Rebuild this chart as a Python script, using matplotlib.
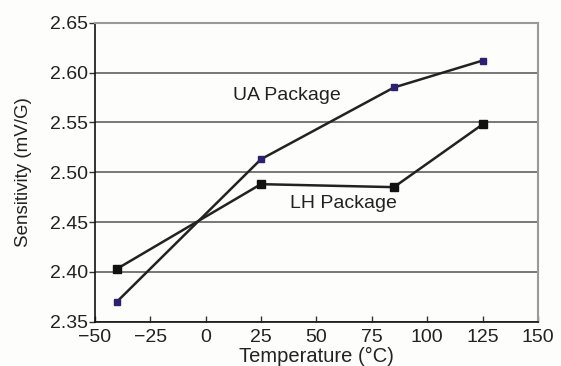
import matplotlib
matplotlib.use("Agg")
import matplotlib.pyplot as plt

plt.rcParams['font.family'] = ['Liberation Sans', 'DejaVu Sans']

temps = [-40, 25, 85, 125]
ua_vals = [2.370, 2.513, 2.585, 2.612]
lh_vals = [2.403, 2.488, 2.485, 2.548]
xticks = [-50, -25, 0, 25, 50, 75, 100, 125, 150]
yticks = [2.35, 2.40, 2.45, 2.50, 2.55, 2.60, 2.65]

fig = plt.figure(figsize=(5.61, 3.66), dpi=100)
fig.patch.set_facecolor('#fdfdfb')
ax = fig.add_axes([94.7/561, 1 - 321.7/366, (538 - 94.7)/561, (321.7 - 22.7)/366])
ax.set_facecolor('#fdfdfb')

ax.plot(temps, ua_vals, color='#222222', lw=1.8, marker='s', ms=5,
        mfc='#2e2070', mec='#2e2070', zorder=3)
ax.plot(temps, lh_vals, color='#222222', lw=1.8, marker='s', ms=6,
        mfc='#111111', mec='#111111', zorder=3)

ax.set_xlim(-50, 150)
ax.set_ylim(2.35, 2.65)
ax.set_xticks(xticks)
ax.set_yticks(yticks)
ax.set_xticklabels([str(t).replace('-', '\u2212') for t in xticks])
ax.set_yticklabels([f"{v:.2f}" for v in yticks])
ax.grid(axis='y', color='#777777', lw=1.4)
ax.set_axisbelow(True)

for s in ['top', 'right']:
    ax.spines[s].set_color('#999999')
    ax.spines[s].set_linewidth(1.5)
for s in ['left', 'bottom']:
    ax.spines[s].set_color('#111111')
    ax.spines[s].set_linewidth(1.2)

ax.tick_params(axis='x', direction='in', length=4, width=1, color='#333333',
               labelsize=14, pad=5, labelcolor='#222222')
ax.tick_params(axis='y', direction='out', length=4, width=1, color='#333333',
               labelsize=14, pad=1, labelcolor='#222222')

ax.set_xlabel('Temperature (°C)', fontsize=14.5, color='#222222', labelpad=1)
ax.set_ylabel('Sensitivity (mV/G)', fontsize=13.5, color='#222222', labelpad=13)

ax.text(12.4, 2.577, 'UA Package', fontsize=14, color='#222222', va='center', ha='left')
ax.text(38.1, 2.469, 'LH Package', fontsize=14, color='#222222', va='center', ha='left')

fig.savefig('out.png', dpi=100, facecolor=fig.get_facecolor())
